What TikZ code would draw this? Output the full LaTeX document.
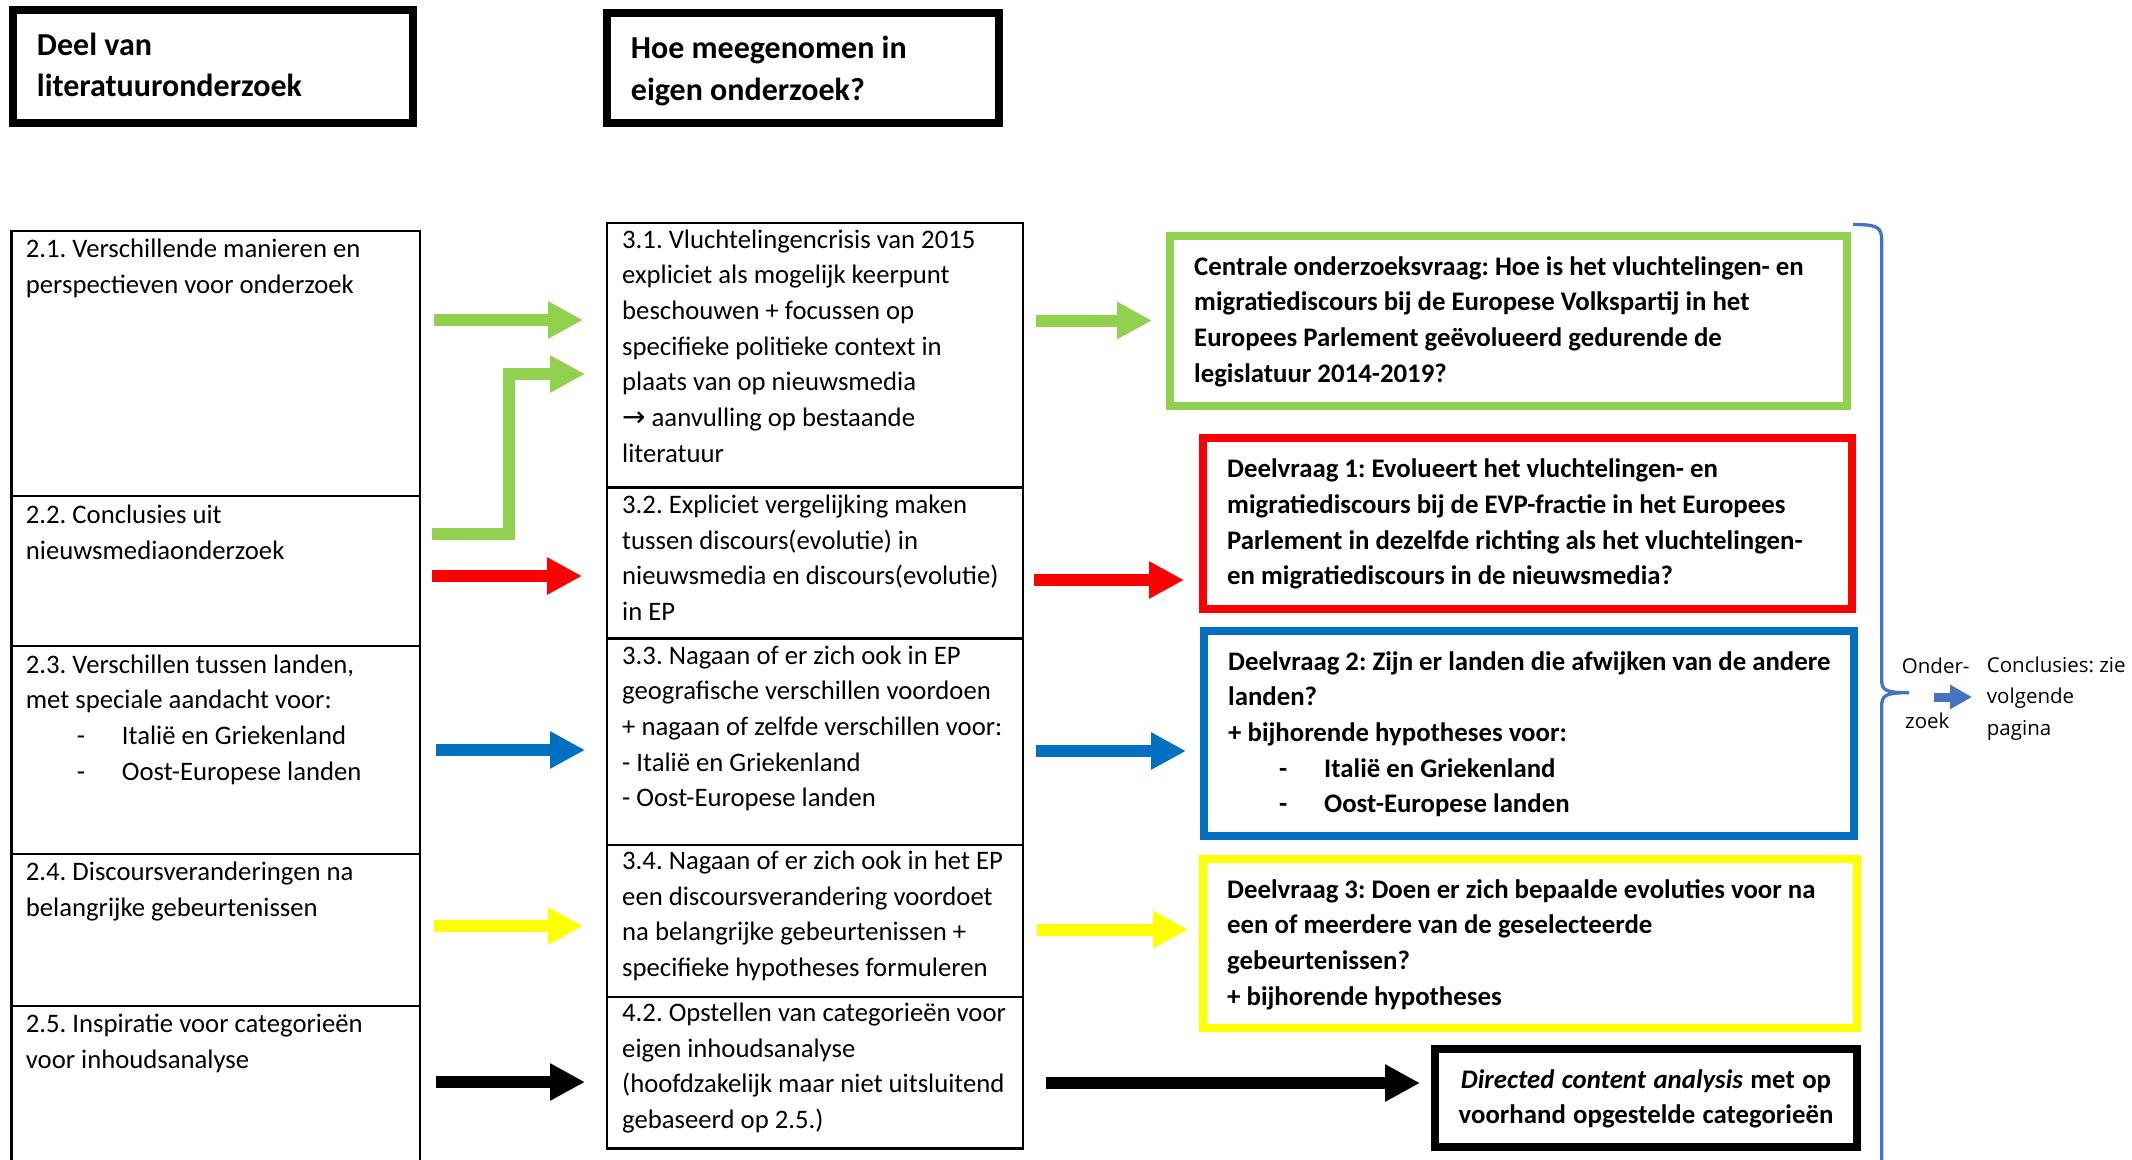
\documentclass[tikz,border=0pt]{standalone}
\usepackage{fontspec}
\setmainfont{Carlito}
\newfontfamily\osans{Open Sans}
\newfontfamily\dejavu{DejaVu Sans}
\usetikzlibrary{arrows.meta}
\definecolor{cgreen}{HTML}{92D050}
\definecolor{cred}{HTML}{FF0000}
\definecolor{cblue}{HTML}{0070C0}
\definecolor{cyellow}{HTML}{FFFF00}
\definecolor{cbrace}{HTML}{4472C4}
\frenchspacing
\newcommand\dashitem[1]{\makebox[96pt][l]{\hspace*{51pt}-}#1}
\newcommand\bodyfont{\frenchspacing\fontsize{26.7}{36}\selectfont}
\newcommand\midfont{\frenchspacing\fontsize{26.7}{35.7}\selectfont}
\newcommand\boldfont{\frenchspacing\fontsize{26.8}{35.7}\selectfont\bfseries}
\newcommand\headfont{\frenchspacing\fontsize{32}{41.5}\selectfont\bfseries}
\newcommand\natspace{\spaceskip=0pt\xspaceskip=0pt\relax}
\begin{document}
\begin{tikzpicture}[x=1pt,y=-1pt,
  box/.style={draw, rectangle, anchor=north west, inner sep=0pt, outer sep=0pt},
  thinbox/.style={box, line width=2.5pt},
  thickbox/.style={box, line width=8pt, line join=miter},
  ltxt/.style={anchor=base west, inner sep=0pt, text width=#1, align=left,
    execute at begin node=\natspace},
  blockarrow/.style={line width=12pt, line join=miter,
    -{Triangle[length=35pt,width=35pt]}},
]
\useasboundingbox (0,0) rectangle (2132,1159);

% headers
\node[thickbox, minimum width=399.7pt, minimum height=113pt] (h1) at (13,10) {};
\node[thickbox, minimum width=392.2pt, minimum height=109.7pt] (h2) at (606.5,13.3) {};
\node[ltxt=360pt, font=\headfont] (th1) at (36.7,55) {Deel van\\literatuuronderzoek};
\node[ltxt=360pt, font=\headfont] (th2) at (630.7,58.5) {Hoe meegenomen in\\eigen onderzoek?};

% left column
\node[thinbox, minimum width=408.5pt, minimum height=265pt] (l21) at (11.5,231) {};
\node[thinbox, minimum width=408.5pt, minimum height=150pt] (l22) at (11.5,496) {};
\node[thinbox, minimum width=408.5pt, minimum height=208pt] (l23) at (11.5,646) {};
\node[thinbox, minimum width=408.5pt, minimum height=152pt] (l24) at (11.5,854) {};
\node[thinbox, minimum width=408.5pt, minimum height=170pt] (l25) at (11.5,1006) {};
\node[ltxt=400pt, font=\bodyfont] (t21) at (25.7,257) {2.1. Verschillende manieren en\\perspectieven voor onderzoek};
\node[ltxt=400pt, font=\bodyfont] (t22) at (25.7,523) {2.2. Conclusies uit\\nieuwsmediaonderzoek};
\node[ltxt=400pt, font=\midfont] (t23) at (25.7,673) {2.3. Verschillen tussen landen,\\met speciale aandacht voor:\\\dashitem{Italië en Griekenland}\\\dashitem{Oost-Europese landen}};
\node[ltxt=400pt, font=\bodyfont] (t24) at (25.7,880) {2.4. Discoursveranderingen na\\belangrijke gebeurtenissen};
\node[ltxt=400pt, font=\bodyfont] (t25) at (25.7,1032.5) {2.5. Inspiratie voor categorieën\\voor inhoudsanalyse};

% middle column
\node[thinbox, minimum width=416pt, minimum height=264.5pt] (m31) at (607,223) {};
\node[thinbox, minimum width=416pt, minimum height=151pt] (m32) at (607,487.5) {};
\node[thinbox, minimum width=416pt, minimum height=206.5pt] (m33) at (607,638.5) {};
\node[thinbox, minimum width=416pt, minimum height=152pt] (m34) at (607,845) {};
\node[thinbox, minimum width=416pt, minimum height=151.5pt] (m42) at (607,997) {};
\node[ltxt=430pt, font=\midfont] (t31) at (622,248) {3.1. Vluchtelingencrisis van 2015\\expliciet als mogelijk keerpunt\\beschouwen + focussen op\\specifieke politieke context in\\plaats van op nieuwsmedia\\{\dejavu\fontsize{28}{35.7}\selectfont →} aanvulling op bestaande\\literatuur};
\node[ltxt=430pt, font=\midfont] (t32) at (622,513.3) {3.2. Expliciet vergelijking maken\\tussen discours(evolutie) in\\nieuwsmedia en discours(evolutie)\\in EP};
\node[ltxt=430pt, font=\midfont] (t33) at (622,664) {3.3. Nagaan of er zich ook in EP\\geografische verschillen voordoen\\+ nagaan of zelfde verschillen voor:\\- Italië en Griekenland\\- Oost-Europese landen};
\node[ltxt=430pt, font=\midfont] (t34) at (622,869.5) {3.4. Nagaan of er zich ook in het EP\\een discoursverandering voordoet\\na belangrijke gebeurtenissen +\\specifieke hypotheses formuleren};
\node[ltxt=430pt, font=\midfont] (t42) at (622,1021.4) {4.2. Opstellen van categorieën voor\\eigen inhoudsanalyse\\(hoofdzakelijk maar niet uitsluitend\\gebaseerd op 2.5.)};

% right column
\node[thickbox, draw=cgreen, minimum width=677pt, minimum height=170pt] (rq) at (1170,236) {};
\node[thickbox, draw=cred, minimum width=649.5pt, minimum height=170.5pt] (r1) at (1202.5,438) {};
\node[thickbox, draw=cblue, minimum width=650pt, minimum height=205.5pt] (r2) at (1204,630.5) {};
\node[thickbox, draw=cyellow, minimum width=654pt, minimum height=169.5pt] (r3) at (1203,858.5) {};
\node[thickbox, minimum width=422.5pt, minimum height=98.5pt] (r4) at (1434.5,1048.5) {};
\node[ltxt=660pt, font=\boldfont] (tq) at (1194,275) {Centrale onderzoeksvraag: Hoe is het vluchtelingen- en\\migratiediscours bij de Europese Volkspartij in het\\Europees Parlement geëvolueerd gedurende de\\legislatuur 2014-2019?};
\node[ltxt=640pt, font=\boldfont] (td1) at (1227,477.7) {Deelvraag 1: Evolueert het vluchtelingen- en\\migratiediscours bij de EVP-fractie in het Europees\\Parlement in dezelfde richting als het vluchtelingen-\\en migratiediscours in de nieuwsmedia?};
\node[ltxt=640pt, font=\boldfont] (td2) at (1228,670) {Deelvraag 2: Zijn er landen die afwijken van de andere\\landen?\\+ bijhorende hypotheses voor:\\\dashitem{Italië en Griekenland}\\\dashitem{Oost-Europese landen}};
\node[ltxt=640pt, font=\boldfont] (td3) at (1227,898) {Deelvraag 3: Doen er zich bepaalde evoluties voor na\\een of meerdere van de geselecteerde\\gebeurtenissen?\\+ bijhorende hypotheses};
\node[anchor=base, inner sep=0pt, text width=420pt, align=center, font=\boldfont, execute at begin node=\natspace] (td4) at (1646,1088) {\textit{Directed content analysis} met op\\voorhand opgestelde categorieën};

% arrows left -> middle
\coordinate (a1s) at (434,320);   \coordinate (a1e) at (583,320);
\coordinate (a2s) at (432,534);   \coordinate (a2b) at (509,534);
\coordinate (a2c) at (509,374);   \coordinate (a2e) at (585,374);
\coordinate (a3s) at (432,576);   \coordinate (a3e) at (582,576);
\coordinate (a4s) at (436,750);   \coordinate (a4e) at (585,750);
\coordinate (a5s) at (434,926);   \coordinate (a5e) at (583,926);
\coordinate (a6s) at (436,1082);  \coordinate (a6e) at (585,1082);
\draw[blockarrow, cgreen] (a1s) -- (a1e);
\draw[blockarrow, cgreen] (a2s) -- (a2b) -- (a2c) -- (a2e);
\draw[blockarrow, cred] (a3s) -- (a3e);
\draw[blockarrow, cblue] (a4s) -- (a4e);
\draw[blockarrow, cyellow] (a5s) -- (a5e);
\draw[blockarrow, black] (a6s) -- (a6e);

% arrows middle -> right
\coordinate (b1s) at (1036,320.5); \coordinate (b1e) at (1152,320.5);
\coordinate (b2s) at (1034,580);   \coordinate (b2e) at (1184,580);
\coordinate (b3s) at (1036,751);   \coordinate (b3e) at (1186,751);
\coordinate (b4s) at (1037,929.5); \coordinate (b4e) at (1188,929.5);
\coordinate (b5s) at (1046,1083);  \coordinate (b5e) at (1420,1083);
\draw[blockarrow, cgreen] (b1s) -- (b1e);
\draw[blockarrow, cred] (b2s) -- (b2e);
\draw[blockarrow, cblue] (b3s) -- (b3e);
\draw[blockarrow, cyellow] (b4s) -- (b4e);
\draw[blockarrow, black] (b5s) -- (b5e);

% brace
\draw[cbrace, line width=3.3pt] (1853,224.5) .. controls (1877,224.5) and (1881.7,227) .. (1881.7,240)
  -- (1881.7,680) .. controls (1881.7,690) and (1885,692.7) .. (1909,692.7)
  .. controls (1885,692.7) and (1881.7,695.5) .. (1881.7,706) -- (1881.7,1175);
\node[anchor=base west, inner sep=0pt, font=\osans\fontsize{20.5}{31.5}\selectfont] (onder) at (1901.7,673.3) {Onder-};
\node[anchor=base west, inner sep=0pt, font=\osans\fontsize{20.5}{31.5}\selectfont] (zoek) at (1905,728.3) {zoek};
\node[ltxt=150pt, font=\osans\fontsize{20.5}{31.5}\selectfont] (concl) at (1986.7,672.3) {Conclusies: zie\\volgende\\pagina};
\coordinate (cs) at (1934,697); \coordinate (ce) at (1972,697);
\draw[cbrace, line width=9pt, -{Triangle[length=22pt,width=23pt]}] (cs) -- (ce);
\end{tikzpicture}
\end{document}
